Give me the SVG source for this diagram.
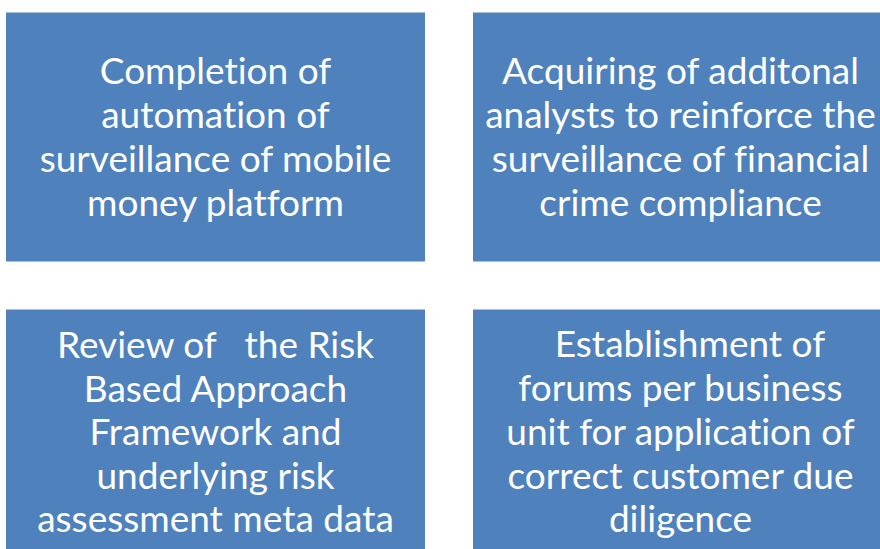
<svg xmlns="http://www.w3.org/2000/svg" width="880" height="549" viewBox="0 0 880 549">
  <style>
    .box { fill: #4f81bd; }
    .label { fill: #ffffff; font-family: Lato, "Open Sans", sans-serif; font-size: 37px; text-anchor: middle; font-variant-ligatures: none; font-feature-settings: "liga" 0; }
  </style>
  <rect width="880" height="549" fill="#ffffff"/>
  <g id="node-automation">
    <rect class="box" x="6" y="12.5" width="419" height="249"/>
    <text class="label" xml:space="preserve"><tspan x="215.5" y="83.5">Completion of</tspan><tspan x="215.5" y="127.5">automation of</tspan><tspan x="215.5" y="171.5">surveillance of mobile</tspan><tspan x="215.5" y="215.5">money platform</tspan></text>
  </g>
  <g id="node-analysts">
    <rect class="box" x="473" y="12.5" width="414" height="249"/>
    <text class="label" xml:space="preserve"><tspan x="680.5" y="83.5">Acquiring of additonal</tspan><tspan x="680.5" y="127.5">analysts to reinforce the</tspan><tspan x="680.5" y="171.5">surveillance of financial</tspan><tspan x="680.5" y="215.5">crime compliance</tspan></text>
  </g>
  <g id="node-rba-review">
    <rect class="box" x="6" y="309.5" width="419" height="245"/>
    <text class="label" xml:space="preserve"><tspan x="215.5" y="357.5">Review of   the Risk</tspan><tspan x="215.5" y="401.5">Based Approach</tspan><tspan x="215.5" y="445">Framework and</tspan><tspan x="215.5" y="488.5">underlying risk</tspan><tspan x="215.5" y="532">assessment meta data</tspan></text>
  </g>
  <g id="node-cdd-forums">
    <rect class="box" x="473" y="309.5" width="414" height="245"/>
    <text class="label" xml:space="preserve"><tspan x="680.5" y="357">  Establishment of</tspan><tspan x="680.5" y="401">forums per business</tspan><tspan x="680.5" y="445">unit for application of</tspan><tspan x="680.5" y="488.5">correct customer due</tspan><tspan x="680.5" y="532">diligence</tspan></text>
  </g>
  <g id="connectors"/>
</svg>
